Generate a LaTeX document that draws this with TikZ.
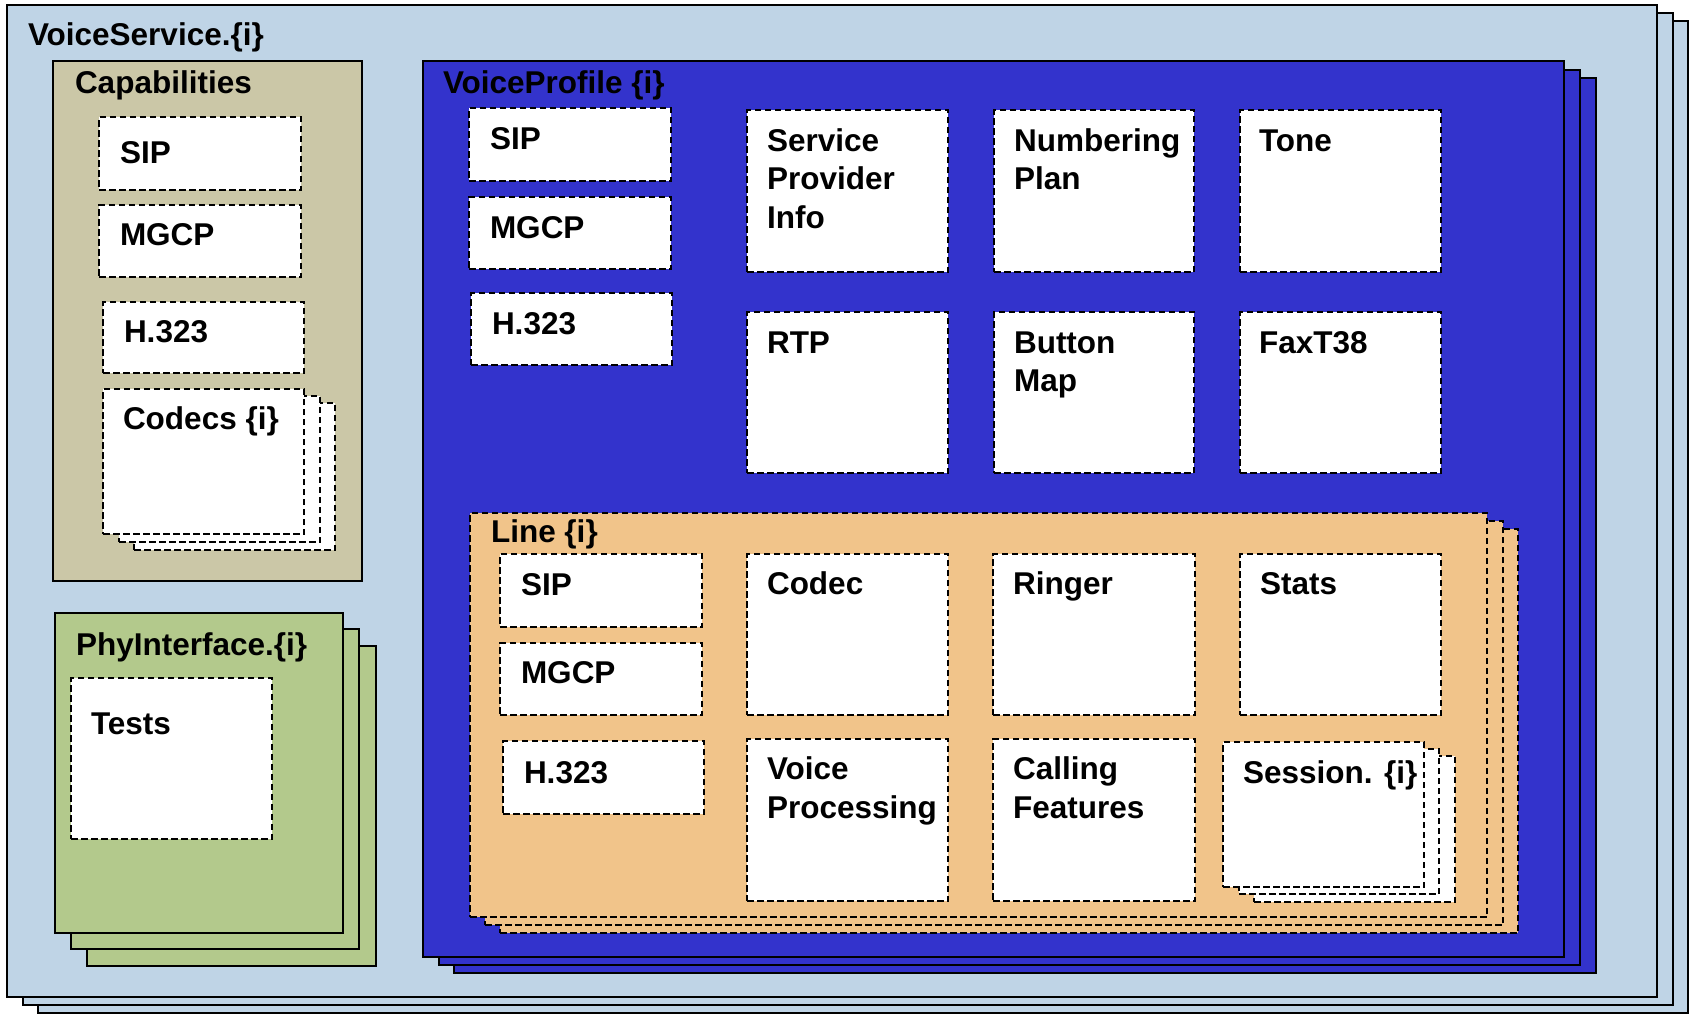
\documentclass[tikz,border=0pt]{standalone}
\usepackage{fontspec}
\setmainfont{Liberation Sans}
\definecolor{vsblue}{RGB}{191,212,230}
\definecolor{captan}{RGB}{203,199,167}
\definecolor{phygreen}{RGB}{179,201,140}
\definecolor{vpblue}{RGB}{51,51,204}
\definecolor{lineorange}{RGB}{241,196,138}
\tikzset{
  solidbox/.style={draw=black, line width=2pt},
  dashbox/.style={draw=black, line width=2.2pt, dash pattern=on 6.5pt off 3.5pt, fill=white},
  lbl/.style={anchor=base west, inner sep=0pt, outer sep=0pt, font=\bfseries\fontsize{31.5}{36}\selectfont, text=black},
}
% name, x1, y1, x2, y2, style
\newcommand\rbox[6]{\node[#6, anchor=north west, inner sep=0pt, outer sep=0pt, minimum width={(#4-#2)*1pt}, minimum height={(#5-#3)*1pt}] (#1) at (#2,#3) {};}
\newcommand\lbl[4]{\node[lbl] (#1) at (#2,#3) {#4};}
\begin{document}
\begin{tikzpicture}[x=1pt,y=-1pt]
\useasboundingbox (0,0) rectangle (1692,1013);
% VoiceService stack
\rbox{vs3}{38}{21}{1688}{1013}{solidbox, fill=vsblue}
\rbox{vs2}{22.5}{13}{1672.5}{1005}{solidbox, fill=vsblue}
\rbox{vs1}{7}{5}{1657}{997}{solidbox, fill=vsblue}
\lbl{vst}{28}{45}{VoiceService.\{i\}}
% Capabilities
\rbox{cap}{53}{61}{362}{581}{solidbox, fill=captan}
\lbl{capt}{75}{93}{Capabilities}
\rbox{capsip}{99}{117}{301}{190}{dashbox}
\lbl{capsipt}{120}{163}{SIP}
\rbox{capmgcp}{99}{205}{301}{277}{dashbox}
\lbl{capmgcpt}{120}{245}{MGCP}
\rbox{caph}{103}{302}{304}{373}{dashbox}
\lbl{capht}{124}{342}{H.323}
\rbox{codec3}{134}{403}{335}{550}{dashbox}
\rbox{codec2}{119}{396}{320}{542}{dashbox}
\rbox{codec1}{103}{389}{304}{534}{dashbox}
\lbl{codect}{123}{429}{Codecs \{i\}}
% PhyInterface stack
\rbox{phy3}{87}{646}{376}{966}{solidbox, fill=phygreen}
\rbox{phy2}{71}{629}{359}{949}{solidbox, fill=phygreen}
\rbox{phy1}{55}{613}{343}{933}{solidbox, fill=phygreen}
\lbl{phyt}{76}{655}{PhyInterface.\{i\}}
\rbox{tests}{71}{678}{272}{839}{dashbox}
\lbl{testst}{91}{734}{Tests}
% VoiceProfile stack
\rbox{vp3}{454}{78}{1596}{973}{solidbox, fill=vpblue}
\rbox{vp2}{438.5}{70}{1580}{965}{solidbox, fill=vpblue}
\rbox{vp1}{423}{61}{1564}{957}{solidbox, fill=vpblue}
\lbl{vpt}{443}{93}{VoiceProfile \{i\}}
\rbox{vpsip}{469}{108}{671}{181}{dashbox}
\lbl{vpsipt}{490}{149}{SIP}
\rbox{vpmgcp}{469}{197}{671}{269}{dashbox}
\lbl{vpmgcpt}{490}{238}{MGCP}
\rbox{vph}{471}{293}{672}{365}{dashbox}
\lbl{vpht}{492}{334}{H.323}
\rbox{spi}{747}{110}{948}{272}{dashbox}
\lbl{spia}{767}{151}{Service}
\lbl{spib}{767}{189.5}{Provider}
\lbl{spic}{767}{228}{Info}
\rbox{num}{994}{110}{1194}{272}{dashbox}
\lbl{numa}{1014}{151}{Numbering}
\lbl{numb}{1014}{189.5}{Plan}
\rbox{tone}{1240}{110}{1441}{272}{dashbox}
\lbl{tonet}{1259}{151}{Tone}
\rbox{rtp}{747}{312}{948}{473}{dashbox}
\lbl{rtpt}{767}{353}{RTP}
\rbox{btn}{994}{312}{1194}{473}{dashbox}
\lbl{btna}{1014}{353}{Button}
\lbl{btnb}{1014}{391.5}{Map}
\rbox{fax}{1240}{312}{1441}{473}{dashbox}
\lbl{faxt}{1259}{353}{FaxT38}
% Line stack
\rbox{line3}{500}{529}{1518}{933}{dashbox, fill=lineorange}
\rbox{line2}{485}{521}{1503}{925}{dashbox, fill=lineorange}
\rbox{line1}{470}{513}{1487}{917}{dashbox, fill=lineorange}
\lbl{linet}{491}{542}{Line \{i\}}
\rbox{lsip}{500}{554}{702}{627}{dashbox}
\lbl{lsipt}{521}{595}{SIP}
\rbox{lmgcp}{500}{643}{702}{715}{dashbox}
\lbl{lmgcpt}{521}{683}{MGCP}
\rbox{lh}{503}{741}{704}{814}{dashbox}
\lbl{lht}{524}{783}{H.323}
\rbox{lcodec}{747}{554}{948}{715}{dashbox}
\lbl{lcodect}{767}{594}{Codec}
\rbox{ring}{993}{554}{1195}{715}{dashbox}
\lbl{ringt}{1013}{594}{Ringer}
\rbox{stats}{1240}{554}{1441}{715}{dashbox}
\lbl{statst}{1260}{594}{Stats}
\rbox{vproc}{747}{739}{948}{901}{dashbox}
\lbl{vproca}{767}{779}{Voice}
\lbl{vprocb}{767}{818}{Processing}
\rbox{callf}{993}{739}{1195}{901}{dashbox}
\lbl{callfa}{1013}{779}{Calling}
\lbl{callfb}{1013}{818}{Features}
\rbox{sess3}{1254}{756}{1455}{902}{dashbox}
\rbox{sess2}{1239}{749}{1439}{894}{dashbox}
\rbox{sess1}{1223}{742}{1424}{887}{dashbox}
\lbl{sesst}{1243}{783}{Session. \{i\}}
\end{tikzpicture}
\end{document}
